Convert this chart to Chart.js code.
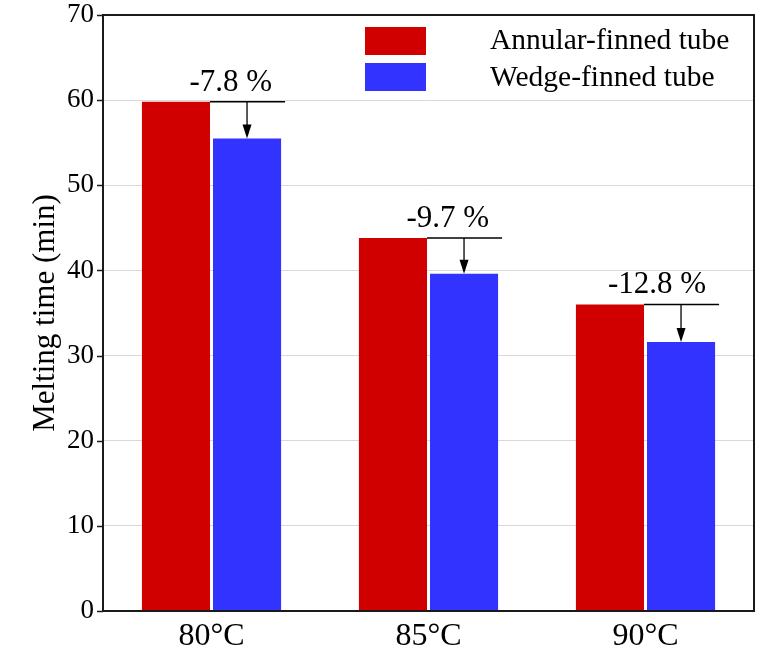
<!DOCTYPE html>
<html>
<head>
<meta charset="utf-8">
<script src="https://cdn.jsdelivr.net/npm/chart.js@4.4.1/dist/chart.umd.min.js"></script>
<style>
  html, body { margin: 0; padding: 0; background: #fff; }
  #wrap { width: 769px; height: 653px; }
</style>
</head>
<body>
<div id="wrap"><canvas id="c" width="769" height="653"></canvas></div>
<script>
const categories = ['80°C', '85°C', '90°C'];
const annularValues = [59.8, 43.8, 36.0];
const wedgeValues = [55.5, 39.6, 31.6];
const seriesNames = ['Annular-finned tube', 'Wedge-finned tube'];
const pctLabels = ['-7.8 %', '-9.7 %', '-12.8 %'];
const yTicks = [0, 10, 20, 30, 40, 50, 60, 70];

const RED = '#d10000';
const BLUE = '#3333ff';
const FONT = "'Liberation Serif', 'Times New Roman', serif";

const annotationPlugin = {
  id: 'annot',
  afterDatasetsDraw(chart) {
    const ctx = chart.ctx;
    const a = chart.chartArea;
    const ys = chart.scales.y;
    const m0 = chart.getDatasetMeta(0);
    const m1 = chart.getDatasetMeta(1);
    ctx.save();
    // frame
    ctx.strokeStyle = '#1a1a1a';
    ctx.lineWidth = 2;
    ctx.strokeRect(a.left, a.top, a.right - a.left, a.bottom - a.top);
    // y tick marks
    ctx.lineWidth = 1.3;
    ctx.beginPath();
    yTicks.forEach(v => {
      const y = Math.round(ys.getPixelForValue(v)) + 0.5;
      ctx.moveTo(a.left - 6, y);
      ctx.lineTo(a.left, y);
    });
    ctx.stroke();

    for (let i = 0; i < categories.length; i++) {
      const r = m0.data[i], b = m1.data[i];
      const redRight = r.x + r.width / 2;
      const blueRight = b.x + b.width / 2;
      const ly = r.y;
      ctx.strokeStyle = '#000';
      ctx.lineWidth = 1.5;
      ctx.beginPath();
      ctx.moveTo(redRight, ly);
      ctx.lineTo(blueRight + 4, ly);
      ctx.stroke();
      // arrow
      const tipY = b.y;
      const headLen = 14;
      ctx.lineWidth = 1.3;
      ctx.beginPath();
      ctx.moveTo(b.x, ly);
      ctx.lineTo(b.x, tipY - headLen + 2);
      ctx.stroke();
      ctx.fillStyle = '#000';
      ctx.beginPath();
      ctx.moveTo(b.x, tipY);
      ctx.lineTo(b.x - 4.5, tipY - headLen);
      ctx.lineTo(b.x + 4.5, tipY - headLen);
      ctx.closePath();
      ctx.fill();
      // label
      ctx.font = '31px ' + FONT;
      ctx.textAlign = 'right';
      ctx.textBaseline = 'alphabetic';
      ctx.fillText(pctLabels[i], blueRight - 9, ly - 11);
    }

    // legend
    const colors = [RED, BLUE];
    const boxTops = [27, 63];
    const baselines = [49, 86];
    ctx.font = '29.5px ' + FONT;
    ctx.textAlign = 'left';
    for (let k = 0; k < 2; k++) {
      ctx.fillStyle = colors[k];
      ctx.fillRect(365, boxTops[k], 61, 28);
      ctx.fillStyle = '#000';
      ctx.fillText(seriesNames[k], 490, baselines[k]);
    }
    ctx.restore();
  }
};

new Chart(document.getElementById('c'), {
  type: 'bar',
  data: {
    labels: categories,
    datasets: [
      { label: seriesNames[0], data: annularValues, backgroundColor: RED, borderWidth: 0 },
      { label: seriesNames[1], data: wedgeValues, backgroundColor: BLUE, borderWidth: 0 }
    ]
  },
  options: {
    responsive: false,
    animation: false,
    devicePixelRatio: 1,
    layout: { padding: { left: 0, right: 15, top: 15, bottom: 0 } },
    categoryPercentage: 0.655,
    barPercentage: 0.958,
    plugins: { legend: { display: false }, tooltip: { enabled: false } },
    scales: {
      x: {
        grid: { display: false, drawTicks: false },
        border: { display: false },
        ticks: { color: '#000', font: { family: FONT, size: 32 }, padding: 6 },
        afterFit(s) { s.height = 42; s.paddingLeft = 0; s.paddingRight = 0; }
      },
      y: {
        min: 0, max: 70,
        afterBuildTicks(s) { s.ticks = yTicks.map(v => ({ value: v })); },
        grid: { color: '#d9d9d9', lineWidth: 1, drawTicks: false },
        border: { display: false },
        ticks: { color: '#000', font: { family: FONT, size: 27, lineHeight: 1 }, padding: 9 },
        title: { display: true, text: 'Melting time (min)', color: '#000', font: { family: FONT, size: 31 }, padding: { top: 27, bottom: 0 } },
        afterFit(s) { s.width = 103; s.paddingTop = 0; s.paddingBottom = 0; }
      }
    }
  },
  plugins: [annotationPlugin]
});
</script>
</body>
</html>
